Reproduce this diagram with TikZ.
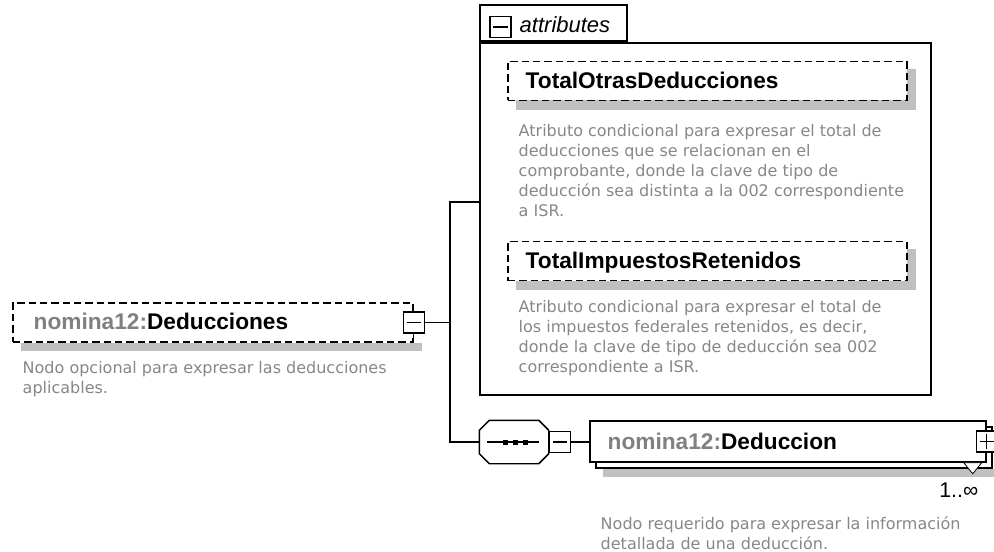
\documentclass[tikz,border=0pt]{standalone}
\usepackage{fontspec}
\setmainfont{Liberation Sans}
\newfontfamily\descfont{DejaVu Sans}
\usetikzlibrary{calc, backgrounds}

\definecolor{namegray}{RGB}{128,128,128}
\definecolor{descgray}{RGB}{135,135,135}
\definecolor{shadowgray}{RGB}{192,192,192}

% octagon round a node, corners cut by 10px
\newcommand\octagonof[1]{($(#1.north west)+(10,0)$) -- ($(#1.north east)+(-10,0)$) -- ($(#1.north east)+(0,10)$)
  -- ($(#1.south east)+(0,-10)$) -- ($(#1.south east)+(-10,0)$) -- ($(#1.south west)+(10,0)$)
  -- ($(#1.south west)+(0,-10)$) -- ($(#1.north west)+(0,10)$) -- cycle}

\begin{document}
\begin{tikzpicture}[x=0.75pt, y=-0.75pt, line width=1.1pt,
    optbox/.style={draw, dash pattern=on 5.5pt off 3pt, fill=white, inner sep=0pt},
    reqbox/.style={draw, fill=white, inner sep=0pt, minimum width=297pt, minimum height=30.75pt},
    btn/.style={draw, fill=white, inner sep=0pt, minimum size=15.75pt},
    title/.style={anchor=base west, inner sep=0pt, font=\fontsize{17}{18}\selectfont\bfseries},
    desc/.style={anchor=base west, inner sep=0pt, font=\descfont\fontsize{12}{15}\selectfont, text=descgray}]
  \useasboundingbox (0,0) rectangle (994,552);

  % root element
  \node[optbox, minimum width=300pt, minimum height=29.25pt] (ded) at (213,322.5) {};
  \node[title] (dedlbl) at (33,329) {\textcolor{namegray}{nomina12:}Deducciones};
  \node[btn] (dedbtn) at (ded.east) {};
  \draw (dedbtn.north) -- ++(0,-4) (dedbtn.south) -- ++(0,4);
  \draw ($(dedbtn.west)+(4,0)$) -- ($(dedbtn.east)+(-4,0)$);
  \node[desc] (deddesc) at (22,373) {\parbox[t]{300pt}{Nodo opcional para expresar las deducciones\\aplicables.}};

  % attributes
  \node[draw, line width=1.3pt, minimum width=338.25pt, minimum height=264pt] (attrs) at (705.5,219) {};
  \node[draw, line width=1.3pt, inner sep=0pt, minimum width=110.25pt, minimum height=27pt,
      anchor=south west] (tab) at (attrs.north west) {};
  \node[btn] (attbtn) at (500.5,27) {};
  \draw ($(attbtn.west)+(4,0)$) -- ($(attbtn.east)+(-4,0)$);
  \node[anchor=base west, inner sep=0pt, font=\fontsize{16.5}{18}\selectfont\itshape] (attlbl) at (519,33) {attributes};

  \node[optbox, minimum width=299.25pt, minimum height=29.25pt] (otras) at (707.5,81) {};
  \node[title] (otraslbl) at (525,88.5) {TotalOtrasDeducciones};
  \node[desc] (otrasdesc) at (518,137) {\parbox[t]{320pt}{Atributo condicional para expresar el total de\\deducciones que se relacionan en el\\comprobante, donde la clave de tipo de\\deducción sea distinta a la 002 correspondiente\\a ISR.}};

  \node[optbox, minimum width=299.25pt, minimum height=29.25pt] (retenidos) at (707.5,261) {};
  \node[title] (retenidoslbl) at (525,268.5) {TotalImpuestosRetenidos};
  \node[desc] (retenidosdesc) at (518,312) {\parbox[t]{320pt}{Atributo condicional para expresar el total de\\los impuestos federales retenidos, es decir,\\donde la clave de tipo de deducción sea 002\\correspondiente a ISR.}};

  % sequence and child element
  \node[inner sep=0pt, minimum width=51pt, minimum height=31.5pt] (seq) at (514,442) {};
  \draw[fill=white] \octagonof{seq};
  \draw ($(seq.west)+(8,0)$) -- ($(seq.east)+(-10,0)$);
  \foreach \dx in {-9,1,11}
    \fill ($(seq.center)+(\dx,0)$) +(-2.5,-2.5) rectangle +(2.5,2.5);
  \node[btn, anchor=west] (seqbtn) at (seq.east) {};
  \draw ($(seqbtn.west)+(4,0)$) -- ($(seqbtn.east)+(-4,0)$);

  \node[reqbox] (deducback) at (794,447.5) {};
  \node[reqbox] (deduc) at (788,441.5) {};
  \node[title] (deduclbl) at (607,449) {\textcolor{namegray}{nomina12:}Deduccion};
  \node[btn] (plusbtn) at (deduc.east) {};
  \draw ($(plusbtn.west)+(4,0)$) -- ($(plusbtn.east)+(-4,0)$);
  \draw ($(plusbtn.north)+(0,4)$) -- ($(plusbtn.south)+(0,-4)$);
  \draw[line width=0.6pt, fill=white] ($(deduc.south east)+(-23,0)$) -- ++(18,0) -- ++(-9,11) -- cycle;
  \node[anchor=base east, inner sep=0pt, font=\fontsize{16}{18}\selectfont] (card) at (979,497) {1..∞};
  \node[desc] (deducdesc) at (600,529) {\parbox[t]{330pt}{Nodo requerido para expresar la información\\detallada de una deducción.}};

  % connectors
  \coordinate (jt) at (450,202);
  \coordinate (jb) at (450,442);
  \draw (dedbtn.east) -- (dedbtn.east -| jt);
  \draw (jt -| attrs.west) -- (jt) -- (jb) -- (seq.west);
  \draw (seqbtn.east) -- (seqbtn.east -| deduc.west);

  % shadows
  \begin{pgfonlayer}{background}
    \fill[shadowgray] ($(ded.south west)+(9,0)$) rectangle ($(ded.south east)+(8,8)$);
    \fill[shadowgray] ($(otras.north west)+(9,8)$) rectangle ($(otras.south east)+(8,9)$);
    \fill[shadowgray] ($(retenidos.north west)+(9,8)$) rectangle ($(retenidos.south east)+(8,9)$);
    \fill[shadowgray, shift={(8,8)}] \octagonof{seq};
    \fill[shadowgray] ($(deducback.south west)+(8,0)$) rectangle ($(deducback.south east)+(8,8)$);
  \end{pgfonlayer}
\end{tikzpicture}
\end{document}
